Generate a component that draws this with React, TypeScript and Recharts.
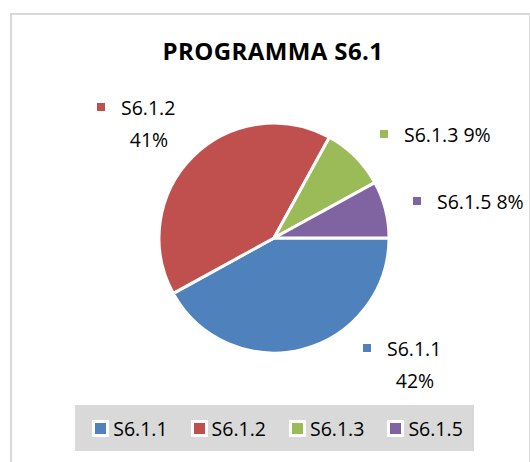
import { Legend, Pie, PieChart, Cell } from "recharts";

const categorie = ["S6.1.1", "S6.1.2", "S6.1.3", "S6.1.5"];
const valori = [42, 41, 9, 8];
const colori = ["#4f81bd", "#c0504d", "#9bbb59", "#8064a2"];

const titolo = "PROGRAMMA S6.1";

const datiTorta = categorie.map((nome, i) => ({ nome, valore: valori[i] }));

// dove Excel mette le etichette, rispetto al centro della torta
const posEtichette = [
  { dx: 89, dy: 110, dueRighe: true },
  { dx: -177, dy: -131, dueRighe: true },
  { dx: 106, dy: -104, dueRighe: false },
  { dx: 139, dy: -37, dueRighe: false },
];

const font = "'Open Sans', sans-serif";

function Etichetta(props: any) {
  const { cx, cy, index, percent } = props;
  const pos = posEtichette[index];
  const x = cx + pos.dx;
  const y = cy + pos.dy;
  const perc = `${Math.round(percent * 100)}%`;
  const nome = categorie[index];
  return (
    <g>
      <rect x={x} y={y - 4} width={8} height={8} fill={colori[index]} />
      {pos.dueRighe ? (
        <>
          <text x={x + 24} y={y} dominantBaseline="central" fontSize={19.5} fontFamily={font} fill="#000">
            {nome}
          </text>
          <text x={x + 52} y={y + 32} dominantBaseline="central" textAnchor="middle" fontSize={19.5} fontFamily={font} fill="#000">
            {perc}
          </text>
        </>
      ) : (
        <text x={x + 24} y={y} dominantBaseline="central" fontSize={19.5} fontFamily={font} fill="#000">
          {`${nome} ${perc}`}
        </text>
      )}
    </g>
  );
}

function Legenda() {
  return (
    <div
      style={{
        background: "#d9d9d9",
        height: 46,
        display: "flex",
        alignItems: "center",
        justifyContent: "center",
        gap: 23,
        paddingLeft: 6,
        fontFamily: font,
        fontSize: 19.5,
        color: "#000",
      }}
    >
      {categorie.map((c, i) => (
        <div key={c} style={{ display: "flex", alignItems: "center", gap: 4 }}>
          <span style={{ width: 11, height: 11, background: colori[i], border: "3px solid #fff", display: "inline-block" }} />
          <span>{c}</span>
        </div>
      ))}
    </div>
  );
}

export default function App() {
  return (
    <div style={{ position: "absolute", left: 0, top: 0, width: 530, height: 462, background: "#fff", overflow: "hidden" }}>
      <div
        style={{
          position: "absolute",
          left: 10,
          top: 13,
          width: 517,
          height: 470,
          border: "2px solid #d9d9d9",
        }}
      />
      <div
        style={{
          position: "absolute",
          left: 0,
          width: 546,
          top: 36,
          textAlign: "center",
          fontFamily: font,
          fontWeight: 700,
          fontSize: 24,
          letterSpacing: 0.4,
          lineHeight: "30px",
          color: "#000",
        }}
      >
        {titolo}
      </div>
      <div style={{ position: "absolute", left: 0, top: 0 }}>
        <PieChart width={530} height={462} margin={{ top: 0, right: 0, bottom: 0, left: 0 }}>
          <Pie
            data={datiTorta}
            dataKey="valore"
            nameKey="nome"
            cx={274}
            cy={238}
            outerRadius={115}
            startAngle={0}
            endAngle={-360}
            stroke="#fff"
            strokeWidth={3}
            label={Etichetta}
            labelLine={false}
            isAnimationActive={false}
          >
            {datiTorta.map((d, i) => (
              <Cell key={d.nome} fill={colori[i]} />
            ))}
          </Pie>
          <Legend content={Legenda} wrapperStyle={{ left: 75, top: 405, width: 399, height: 46 }} />
        </PieChart>
      </div>
    </div>
  );
}
